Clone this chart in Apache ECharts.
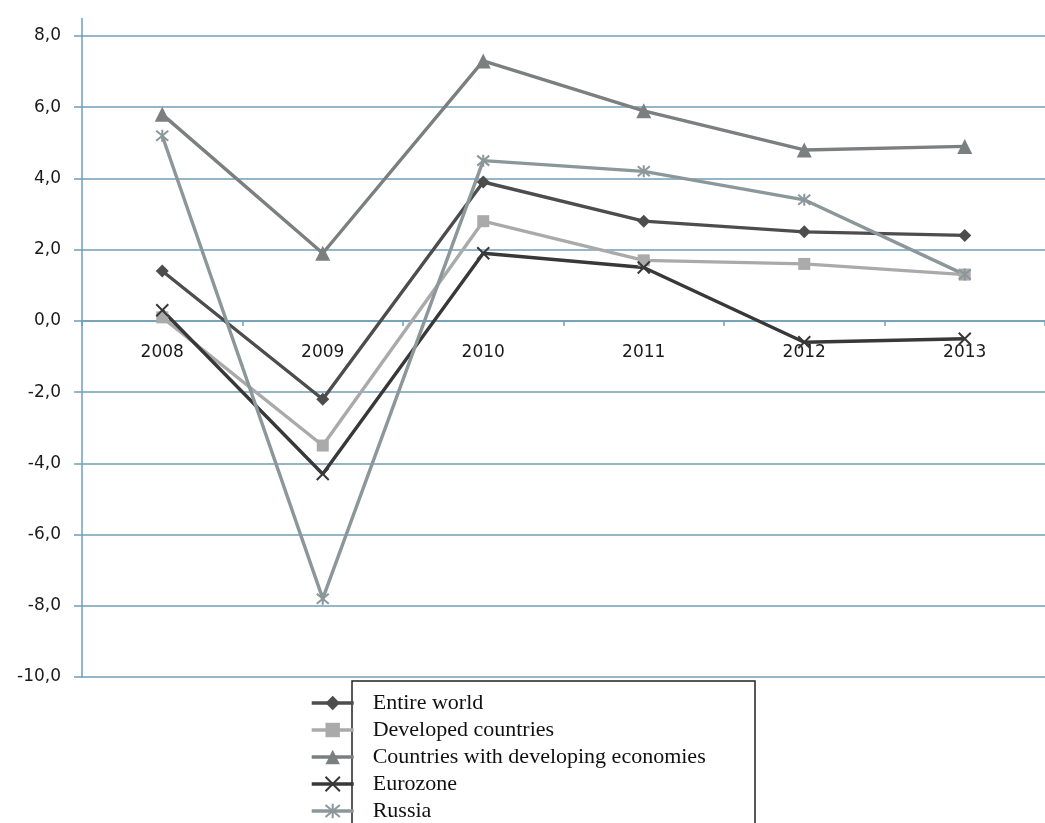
<!DOCTYPE html>
<html>
<head>
<meta charset="utf-8">
<script src="https://cdn.jsdelivr.net/npm/echarts@6/dist/echarts.min.js"></script>
<style>html,body{margin:0;padding:0;background:#fff}#c{width:1045px;height:823px}</style>
</head>
<body>
<div id="c"></div>
<script>
const categories = ['2008', '2009', '2010', '2011', '2012', '2013'];
const entireWorld = [1.4, -2.2, 3.9, 2.8, 2.5, 2.4];
const developed = [0.1, -3.5, 2.8, 1.7, 1.6, 1.3];
const developing = [5.8, 1.9, 7.3, 5.9, 4.8, 4.9];
const eurozone = [0.3, -4.3, 1.9, 1.5, -0.6, -0.5];
const russia = [5.2, -7.8, 4.5, 4.2, 3.4, 1.3];
const seriesNames = ['Entire world', 'Developed countries', 'Countries with developing economies', 'Eurozone', 'Russia'];

const X_PATH = 'path://M0,0 L10,10 M10,0 L0,10';
const STAR_PATH = 'path://M0,0 L10,10 M10,0 L0,10 M5,-1 L5,11';
const gridColor = '#6f9fb6';
const lblFont = '"DejaVu Sans", "Open Sans", sans-serif';

function mk(name, data, color, symbol, size, strokeSym) {
  return {
    name: name, type: 'line', data: data,
    symbol: symbol, symbolSize: size,
    lineStyle: { color: color, width: 3.4 },
    itemStyle: strokeSym ? { color: color, borderColor: color, borderWidth: 2 } : { color: color },
    emphasis: { disabled: true }
  };
}

const chart = echarts.init(document.getElementById('c'), null, { renderer: 'canvas' });
chart.setOption({
  animation: false,
  backgroundColor: '#fff',
  grid: { left: 82, top: 36, bottom: 146, right: -13, containLabel: false },
  xAxis: {
    type: 'category', data: categories, boundaryGap: true,
    axisLine: { onZero: true, lineStyle: { color: gridColor, width: 1.5 } },
    axisTick: { show: true, length: 5, interval: 0, lineStyle: { color: gridColor, width: 1.5 } },
    axisLabel: { margin: -333, fontSize: 17, color: '#1a1a1a', fontFamily: lblFont },
    splitLine: { show: false }
  },
  yAxis: {
    type: 'value', min: -10, max: 8, interval: 2,
    axisLine: { show: true, lineStyle: { color: gridColor, width: 1.5 } },
    axisTick: { show: true, length: 8, lineStyle: { color: gridColor, width: 1.5 } },
    axisLabel: { margin: 21, fontSize: 17, color: '#1a1a1a', fontFamily: lblFont,
      formatter: v => v.toFixed(1).replace('.', ',') },
    splitLine: { show: true, lineStyle: { color: gridColor, width: 1.5 } }
  },
  legend: {
    orient: 'vertical', left: 310, top: 692, bottom: -200, padding: 0,
    itemWidth: 42, itemHeight: 18, itemGap: 5, z: 10,
    data: seriesNames,
    lineStyle: { width: 3.4 },
    textStyle: { fontFamily: '"Liberation Serif", "DejaVu Serif", serif', fontSize: 22, color: '#111', padding: [0, 0, 0, 14] }
  },
  graphic: [
    { type: 'rect', z: 1, shape: { x: 352, y: 681, width: 403, height: 170 },
      style: { fill: '#fff', stroke: '#222', lineWidth: 1.5 } },
    { type: 'line', z: 1, shape: { x1: 82, y1: 18, x2: 82, y2: 36 },
      style: { stroke: gridColor, lineWidth: 1.5 } }
  ],
  series: [
    mk(seriesNames[0], entireWorld, '#4d4d4d', 'diamond', 13, false),
    mk(seriesNames[1], developed, '#aaaaaa', 'rect', 12, false),
    mk(seriesNames[2], developing, '#7b7f80', 'triangle', 15, false),
    mk(seriesNames[3], eurozone, '#383838', X_PATH, 12, true),
    mk(seriesNames[4], russia, '#8b979b', STAR_PATH, 12, true)
  ]
});
</script>
</body>
</html>
